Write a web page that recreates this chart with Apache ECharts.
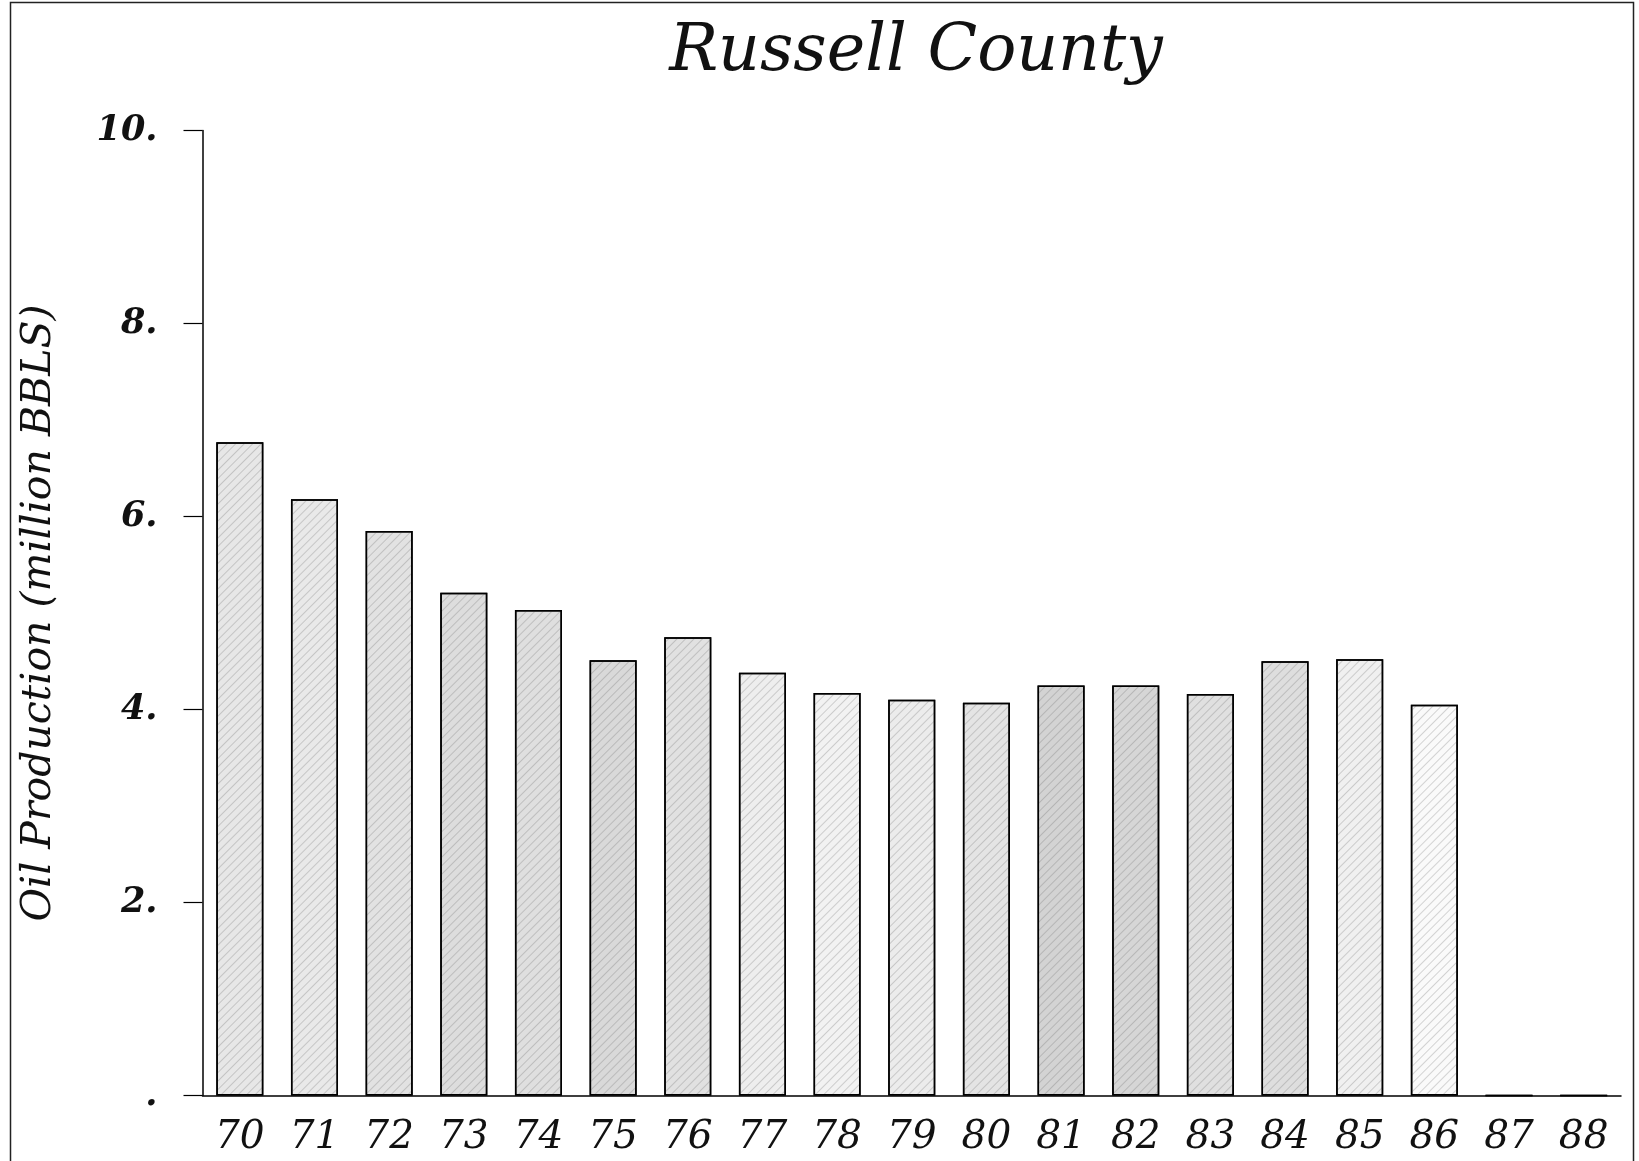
<!DOCTYPE html>
<html>
<head>
<meta charset="utf-8">
<script src="https://cdn.jsdelivr.net/npm/echarts@6/dist/echarts.min.js"></script>
<style>
html,body{margin:0;padding:0;background:#fff;}
#chart{width:1639px;height:1161px;}
</style>
</head>
<body>
<div id="chart"></div>
<script>
// Data
const years = ['70','71','72','73','74','75','76','77','78','79','80','81','82','83','84','85','86','87','88'];
const production = [6.77, 6.18, 5.85, 5.21, 5.03, 4.51, 4.75, 4.38, 4.17, 4.10, 4.07, 4.25, 4.25, 4.16, 4.50, 4.52, 4.05, 0, 0];
const yTicks = [0, 2, 4, 6, 8, 10];

// Styles (kept apart from data)
const barShades = ['#e7e7e7','#e9e9e9','#e2e2e2','#dddddd','#dfdfdf','#d9d9d9','#e1e1e1','#eeeeee','#f2f2f2','#ececec','#e4e4e4','#d3d3d3','#d6d6d6','#e0e0e0','#dedede','#f0f0f0','#fafafa','#ffffff','#ffffff'];
const serif = '"DejaVu Serif", "Liberation Serif", serif';

const chart = echarts.init(document.getElementById('chart'), null, {renderer: 'canvas'});
chart.setOption({
  backgroundColor: '#ffffff',
  animation: false,
  title: {
    text: 'Russell County',
    left: 911, top: 16, textAlign: 'center',
    textStyle: {fontFamily: serif, fontStyle: 'italic', fontWeight: 'normal', fontSize: 65, color: '#111'}
  },
  graphic: [{
    type: 'rect', silent: true,
    shape: {x: 10.5, y: 2.5, width: 1623, height: 1170},
    style: {fill: 'none', stroke: '#222', lineWidth: 1.5}
  }],
  grid: {left: 202.5, right: 18, top: 130.5, bottom: 65.5, containLabel: false, outerBoundsMode: 'none'},
  xAxis: {
    type: 'category',
    data: years,
    axisLine: {show: true, lineStyle: {color: '#000', width: 1.5}},
    axisTick: {show: false},
    axisLabel: {margin: 23, fontFamily: serif, fontStyle: 'italic', fontSize: 39, color: '#111', interval: 0},
    splitLine: {show: false}
  },
  yAxis: {
    type: 'value',
    min: 0, max: 10, interval: 2,
    name: 'Oil Production (million BBLS)',
    nameLocation: 'middle',
    nameGap: 143,
    nameRotate: 90,
    nameTextStyle: {fontFamily: serif, fontStyle: 'italic', fontSize: 41, color: '#111'},
    axisLine: {show: true, lineStyle: {color: '#000', width: 1.5}},
    axisTick: {show: true, inside: false, length: 19, lineStyle: {color: '#000', width: 1.2}},
    axisLabel: {
      margin: 45, fontFamily: serif, fontStyle: 'italic', fontWeight: 'bold', fontSize: 35, color: '#111',
      formatter: function (v) { return yTicks.indexOf(v) >= 0 ? (v === 0 ? '.' : v + '.') : ''; }
    },
    splitLine: {show: false}
  },
  series: [{
    type: 'bar',
    data: production.map(function (v, i) {
      return {value: v, itemStyle: {color: barShades[i]}};
    }),
    barWidth: '63%',
    itemStyle: {
      borderColor: '#000', borderWidth: 1.5,
      decal: {symbol: 'rect', symbolSize: 1, dashArrayX: [1, 0], dashArrayY: [1, 5], rotation: -Math.PI / 4, color: 'rgba(90,90,90,0.25)'}
    }
  }]
});
</script>
</body>
</html>
